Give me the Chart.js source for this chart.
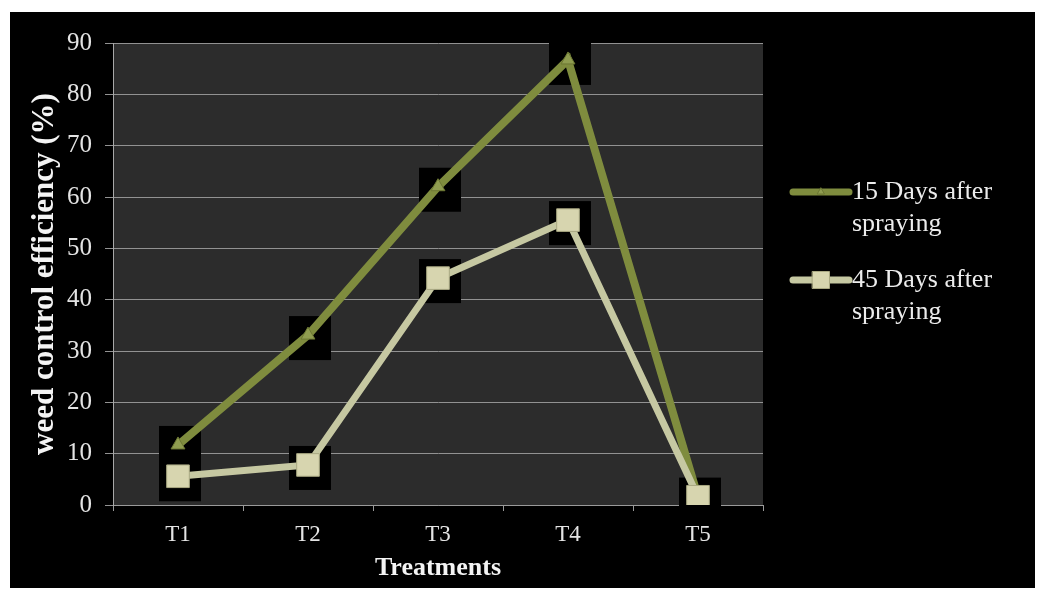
<html>
<head>
<title>Weed control efficiency</title>
<script src="https://cdn.jsdelivr.net/npm/chart.js"></script>
<style>
  body { margin: 0; background: #fff; }
  #box { position: absolute; left: 10px; top: 12px; width: 1025px; height: 576px; background: #000; }
</style>
</head>
<body>
<div id="box"><canvas id="myChart"></canvas></div>
<script>
const treatments = ['T1', 'T2', 'T3', 'T4', 'T5'];
const days15 = [11.7, 33.1, 62.0, 86.7, 1.6];
const days45 = [5.6, 7.8, 44.2, 55.5, 1.6];
const seriesNames = [['15 Days after', 'spraying'], ['45 Days after', 'spraying']];
const yTicks = [0, 10, 20, 30, 40, 50, 60, 70, 80, 90];

const serif = "'Liberation Serif', 'Times New Roman', serif";

// dark plot background
const plotBg = {
  id: 'plotBg',
  beforeDraw(chart) {
    const a = chart.chartArea, ctx = chart.ctx;
    ctx.save();
    ctx.fillStyle = '#2c2c2c';
    ctx.fillRect(a.left, a.top, a.right - a.left, a.bottom - a.top);
    ctx.restore();
  }
};

// black drop shadows behind every marker
const markerShadow = {
  id: 'markerShadow',
  beforeDatasetsDraw(chart) {
    const ctx = chart.ctx;
    ctx.save();
    ctx.fillStyle = '#000';
    chart.data.datasets.forEach((ds, i) => {
      chart.getDatasetMeta(i).data.forEach(p => {
        ctx.fillRect(p.x - 19, p.y - 19, 42, 44);
      });
    });
    ctx.restore();
  }
};

// legend at the right: line + marker + two-line text
const sideLegend = {
  id: 'sideLegend',
  afterDraw(chart) {
    const ctx = chart.ctx;
    const x0 = chart.chartArea.right + 30;
    let y = 180;
    ctx.save();
    chart.data.datasets.forEach(ds => {
      ctx.strokeStyle = ds.borderColor;
      ctx.lineWidth = 7;
      ctx.lineCap = 'round';
      ctx.beginPath();
      ctx.moveTo(x0, y);
      ctx.lineTo(x0 + 56, y);
      ctx.stroke();
      ctx.fillStyle = ds.pointBackgroundColor;
      ctx.strokeStyle = ds.pointBorderColor;
      ctx.lineWidth = 1;
      Chart.helpers.drawPoint(ctx, {
        pointStyle: ds.pointStyle, radius: ds.pointRadius - 4, borderWidth: 1
      }, x0 + 28, y);
      ctx.fillStyle = '#ececec';
      ctx.font = '26px ' + serif;
      ctx.textBaseline = 'middle';
      ctx.fillText(ds.label[0], x0 + 59, y);
      ctx.fillText(ds.label[1], x0 + 59, y + 32);
      y += 88;
    });
    ctx.restore();
  }
};

new Chart(document.getElementById('myChart'), {
  type: 'line',
  data: {
    labels: treatments,
    datasets: [
      {
        label: seriesNames[0],
        data: days15,
        order: 1,
        borderColor: '#7f8c3e',
        borderWidth: 8,
        pointStyle: 'triangle',
        pointRadius: 8,
        pointBackgroundColor: '#8f9c50',
        pointBorderColor: '#6c7733',
        pointBorderWidth: 1,
        tension: 0
      },
      {
        label: seriesNames[1],
        data: days45,
        order: 0,
        borderColor: '#c6c8a2',
        borderWidth: 7,
        pointStyle: 'rect',
        pointRadius: 16,
        pointBackgroundColor: '#d7d5af',
        pointBorderColor: '#a9a882',
        pointBorderWidth: 1,
        tension: 0
      }
    ]
  },
  options: {
    responsive: true,
    maintainAspectRatio: false,
    animation: false,
    layout: { padding: { left: 0, top: 31, right: 272, bottom: 0 } },
    plugins: {
      legend: { display: false },
      tooltip: { enabled: false }
    },
    scales: {
      x: {
        offset: true,
        afterFit: s => { s.height = 83; },
        grid: { drawOnChartArea: false, drawTicks: true, tickLength: 6, offset: true, color: '#9a9a9a' },
        border: { color: '#9a9a9a' },
        ticks: { color: '#e4e4e4', font: { family: serif, size: 23 }, padding: 10 },
        title: {
          display: true, text: 'Treatments', color: '#f4f4f4',
          font: { family: serif, size: 26, weight: 'bold' }, padding: { top: 0, bottom: 4 }
        }
      },
      y: {
        min: 0,
        max: 90,
        afterFit: s => { s.width = 103; },
        afterBuildTicks: s => { s.ticks = yTicks.map(v => ({ value: v })); },
        grid: { color: '#929292', tickLength: 8, lineWidth: 1 },
        border: { color: '#a8a8a8' },
        ticks: { color: '#e4e4e4', font: { family: serif, size: 25 }, padding: 13 },
        title: {
          display: true, text: 'weed control efficiency (%)', color: '#f4f4f4',
          font: { family: serif, size: 31, weight: 'bold' }, padding: { top: 16, bottom: 0 }
        }
      }
    }
  },
  plugins: [plotBg, markerShadow, sideLegend]
});
</script>
</body>
</html>
